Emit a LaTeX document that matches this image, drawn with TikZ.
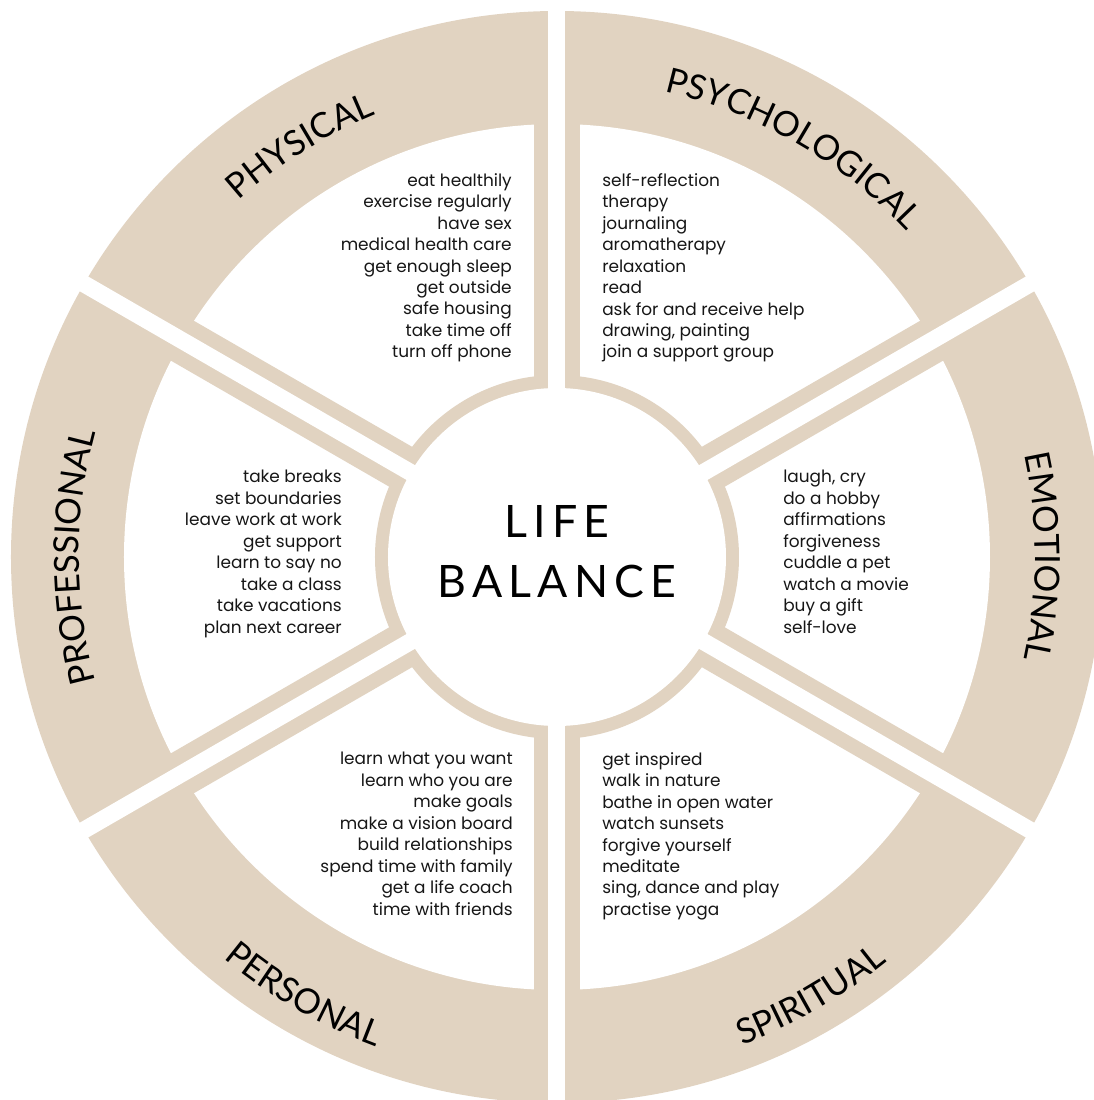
\documentclass[tikz,border=0pt]{standalone}
\usepackage{fontspec}
\setmainfont{Poppins}
\newfontfamily\catfont{Lato}
\newfontfamily\titlefont[LetterSpace=14]{Lato}
\usepackage{xcolor}
\usetikzlibrary{decorations.text}
\definecolor{wheelbeige}{RGB}{225,211,193}
\definecolor{listgray}{RGB}{22,22,22}
\newcommand{\catstyle}{\catfont\fontsize{26}{26}\selectfont}

\begin{document}
\begin{tikzpicture}[x=0.75pt,y=0.75pt]
  \tikzstyle{band}=[wheelbeige];
  \tikzstyle{listtext}=[inner sep=0pt, text=listgray, font=\fontsize{12.7}{16.1}\selectfont];
  \tikzstyle{rightlist}=[listtext, align=right, anchor=north east];
  \tikzstyle{leftlist}=[listtext, align=left, anchor=north west];
  \tikzstyle{catlabel}=[decorate, decoration={text along path, text align=center, #1}];
  \tikzstyle{titletext}=[inner sep=0pt, align=center, anchor=north,
    font=\titlefont\fontsize{33.5}{45}\selectfont];
  %
  \useasboundingbox (-557,-543) rectangle (537,557);
  \clip (-557,-543) rectangle (537,557);
  %
  % wheel
  \fill[band] (0,0) circle[radius=546];
  \fill[white] (0,0) circle[radius=433];
  \fill[band] (0,0) circle[radius=182];
  \foreach \a in {30,90,...,330}
    \draw[band, line width=34.5pt] (0,0) -- (\a:520);
  \foreach \a in {30,90,...,330}
    \draw[white, line width=12.75pt] (0,0) -- (\a:600);
  \fill[white] (0,0) circle[radius=169];
  %
  % category labels
  \path[catlabel={text={|\catstyle|PHYSICAL}}] (152:478) arc[start angle=152, end angle=92, radius=478];
  \path[catlabel={text={|\catstyle|PSYCHOLOGICAL}}] (90:478) arc[start angle=90, end angle=30, radius=478];
  \path[catlabel={text={|\catstyle|EMOTIONAL}}] (30:478) arc[start angle=30, end angle=-30, radius=478];
  \path[catlabel={text={|\catstyle|PROFESSIONAL}}] (210:478) arc[start angle=210, end angle=150, radius=478];
  \path[catlabel={text={|\catstyle|PERSONAL}}] (-150:522) arc[start angle=-150, end angle=-90, radius=522];
  \path[catlabel={text={|\catstyle|SPIRITUAL}}] (-90:522) arc[start angle=-90, end angle=-30, radius=522];
  %
  % centre
  \node[titletext] (title) at (0,52) {LIFE\\BALANCE};
  %
  % lists
  \node[rightlist] (physical) at (-45,384) {eat healthily\\exercise regularly\\have sex\\
    medical health care\\get enough sleep\\get outside\\safe housing\\take time off\\turn off phone};
  \node[leftlist] (psychological) at (45,384) {self-reflection\\therapy\\journaling\\
    aromatherapy\\relaxation\\read\\ask for and receive help\\drawing, painting\\join a support group};
  \node[rightlist] (professional) at (-215,87) {take breaks\\set boundaries\\leave work at work\\
    get support\\learn to say no\\take a class\\take vacations\\plan next career};
  \node[leftlist] (emotional) at (226,87) {laugh, cry\\do a hobby\\affirmations\\
    forgiveness\\cuddle a pet\\watch a movie\\buy a gift\\self-love};
  \node[rightlist] (personal) at (-44,-195) {learn what you want\\learn who you are\\make goals\\
    make a vision board\\build relationships\\spend time with family\\get a life coach\\time with friends};
  \node[leftlist] (spiritual) at (45,-195) {get inspired\\walk in nature\\bathe in open water\\
    watch sunsets\\forgive yourself\\meditate\\sing, dance and play\\practise yoga};
\end{tikzpicture}
\end{document}
